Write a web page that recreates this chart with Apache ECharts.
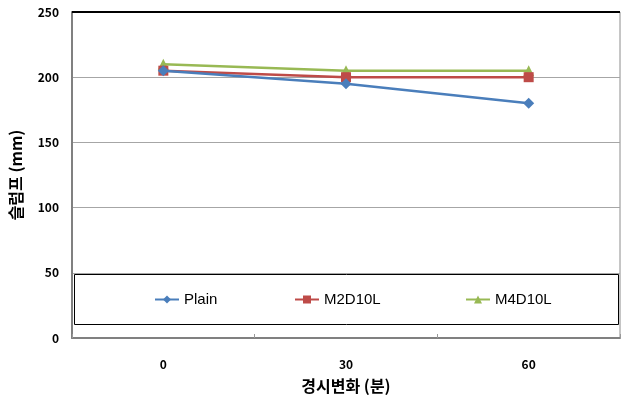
<!DOCTYPE html>
<html><head><meta charset="utf-8">
<script src="https://cdn.jsdelivr.net/npm/echarts@6/dist/echarts.min.js"></script>
<style>html,body{margin:0;padding:0;background:#fff}#c{width:621px;height:403px}</style>
</head><body><div id="c"></div>
<script>
const categories = ['0', '30', '60'];
const plain = [205, 195, 180];
const m2d10l = [205, 200, 200];
const m4d10l = [210, 205, 205];
const yTicks = [0, 50, 100, 150, 200, 250];
const seriesNames = ['Plain', 'M2D10L', 'M4D10L'];

const FONT = '"Noto Sans CJK KR", sans-serif';
const chart = echarts.init(document.getElementById('c'), null, {renderer: 'canvas'});
const legendBase = {
  top: 292, itemWidth: 24, itemHeight: 10, itemGap: 0, z: 10, padding: 0,
  textStyle: {fontFamily: '"Liberation Sans", sans-serif', fontSize: 15, color: '#000'}
};
chart.setOption({
  animation: false,
  grid: {left: 67, top: 12, right: 1, bottom: 65, show: true, borderColor: '#8c8c8c', borderWidth: 1, containLabel: false},
  graphic: [{type: 'rect', shape: {x: 74.5, y: 274.5, width: 544, height: 50}, style: {fill: '#fff', stroke: '#000', lineWidth: 1}, z: 1}],
  legend: [
    Object.assign({}, legendBase, {left: 154, data: [seriesNames[0]]}),
    Object.assign({}, legendBase, {left: 294, data: [seriesNames[1]]}),
    Object.assign({}, legendBase, {left: 465, data: [seriesNames[2]]})
  ],
  xAxis: {
    type: 'category', data: categories, boundaryGap: true,
    axisLine: {lineStyle: {color: '#808080', width: 2}},
    axisTick: {show: true, inside: true, length: 4, lineStyle: {color: '#999'}},
    axisLabel: {margin: 20, fontFamily: FONT, fontWeight: 'bold', fontSize: 12, color: '#000'},
    name: '경시변화 (분)', nameLocation: 'middle', nameGap: 40,
    nameTextStyle: {fontFamily: FONT, fontWeight: 'bold', fontSize: 16, color: '#000'}
  },
  yAxis: {
    type: 'value', min: yTicks[0], max: yTicks[yTicks.length - 1], interval: 50,
    axisLine: {show: true, lineStyle: {color: '#808080', width: 2}},
    axisTick: {show: false},
    splitLine: {lineStyle: {color: '#a6a6a6', width: 1}},
    axisLabel: {margin: 13, fontFamily: FONT, fontWeight: 'bold', fontSize: 12, color: '#000'},
    name: '슬럼프 (mm)', nameLocation: 'middle', nameGap: 48,
    nameTextStyle: {fontFamily: FONT, fontWeight: 'bold', fontSize: 16, color: '#000'}
  },
  series: [
    {name: seriesNames[0], type: 'line', data: plain, symbol: 'diamond', symbolSize: 11,
     itemStyle: {color: '#4a7ebb'}, lineStyle: {color: '#4a7ebb', width: 2.5}, z: 4,
     markLine: {silent: true, symbol: 'none', label: {show: false}, lineStyle: {color: '#000', width: 2, type: 'solid'}, data: [{yAxis: 250}]}},
    {name: seriesNames[1], type: 'line', data: m2d10l, symbol: 'rect', symbolSize: 10,
     itemStyle: {color: '#be4b48'}, lineStyle: {color: '#be4b48', width: 2.5}, z: 3},
    {name: seriesNames[2], type: 'line', data: m4d10l, symbol: 'triangle', symbolSize: 11,
     itemStyle: {color: '#98b954'}, lineStyle: {color: '#98b954', width: 2.5}, z: 2}
  ]
});
</script></body></html>
